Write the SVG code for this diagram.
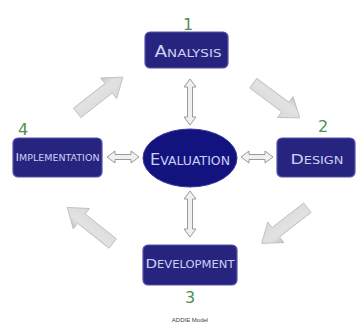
<svg xmlns="http://www.w3.org/2000/svg" width="360" height="326" viewBox="0 0 360 326">
<style>
.box{fill:#26247f;stroke:#5553a8;stroke-width:1.2}
.lbl{font-family:"DejaVu Sans",sans-serif;fill:#cfcff2;text-anchor:middle}
.num{font-family:"DejaVu Sans",sans-serif;font-size:16px;fill:#4f8f4f;text-anchor:middle}
.big{fill:url(#bg);stroke:#b9b9b9;stroke-width:0.8}
.sm{fill:#f0f0f0;stroke:#9a9a9a;stroke-width:1}
</style>
<defs>
<linearGradient id="bg" x1="0" y1="0" x2="0" y2="1">
<stop offset="0" stop-color="#c4c4c4"/>
<stop offset="0.35" stop-color="#e2e2e2"/>
<stop offset="1" stop-color="#dadada"/>
</linearGradient>
<path id="blk" d="M-29,-6 L11,-6 L11,-13 L29,0 L11,13 L11,6 L-29,6 Z"/>
<path id="dh" d="M-16,0 L-8,-6 L-8,-2.5 L8,-2.5 L8,-6 L16,0 L8,6 L8,2.5 L-8,2.5 L-8,6 Z"/>
<path id="dv" d="M-23,0 L-15,-6 L-15,-2.5 L15,-2.5 L15,-6 L23,0 L15,6 L15,2.5 L-15,2.5 L-15,6 Z"/>
</defs>
<rect width="360" height="326" fill="#ffffff"/>
<g id="connectors">
<use href="#blk" class="big" transform="translate(100,95) rotate(-38)"/>
<use href="#blk" class="big" transform="translate(276.5,100.5) rotate(36.7)"/>
<use href="#blk" class="big" transform="translate(284.5,225.5) rotate(142)"/>
<use href="#blk" class="big" transform="translate(90,225.5) rotate(218.5)"/>
<use href="#dh" class="sm" transform="translate(123,157)"/>
<use href="#dh" class="sm" transform="translate(257,157)"/>
<use href="#dv" class="sm" transform="translate(190,102) rotate(90)"/>
<use href="#dv" class="sm" transform="translate(190,214) rotate(90)"/>
</g>
<g id="analysis">
<rect class="box" x="145" y="32" width="83" height="36" rx="5"/>
<text class="lbl" x="188" y="57" textLength="67" lengthAdjust="spacingAndGlyphs"><tspan font-size="15">A</tspan><tspan font-size="11">NALYSIS</tspan></text>
<text class="num" x="188" y="30">1</text>
</g>
<g id="design">
<rect class="box" x="277" y="138" width="78" height="39" rx="5"/>
<text class="lbl" x="317" y="164" textLength="53" lengthAdjust="spacingAndGlyphs"><tspan font-size="14">D</tspan><tspan font-size="10.5">ESIGN</tspan></text>
<text class="num" x="323" y="132">2</text>
</g>
<g id="development">
<rect class="box" x="143" y="245" width="94" height="40" rx="5"/>
<text class="lbl" x="190" y="268" textLength="89" lengthAdjust="spacingAndGlyphs"><tspan font-size="13">D</tspan><tspan font-size="10">EVELOPMENT</tspan></text>
<text class="num" x="190" y="303">3</text>
</g>
<g id="implementation">
<rect class="box" x="13" y="138" width="89" height="39" rx="5"/>
<text class="lbl" x="57.5" y="161" textLength="84" lengthAdjust="spacingAndGlyphs"><tspan font-size="11">I</tspan><tspan font-size="8.5">MPLEMENTATION</tspan></text>
<text class="num" x="23" y="135">4</text>
</g>
<g id="evaluation">
<ellipse cx="190" cy="158" rx="47" ry="29" fill="#131380" stroke="#3a3a9a" stroke-width="1"/>
<text class="lbl" x="190" y="165" textLength="80" lengthAdjust="spacingAndGlyphs"><tspan font-size="15">E</tspan><tspan font-size="11.5">VALUATION</tspan></text>
</g>
<text x="190" y="322" font-family="Liberation Sans, sans-serif" font-size="6" fill="#444" text-anchor="middle">ADDIE Model</text>
</svg>
